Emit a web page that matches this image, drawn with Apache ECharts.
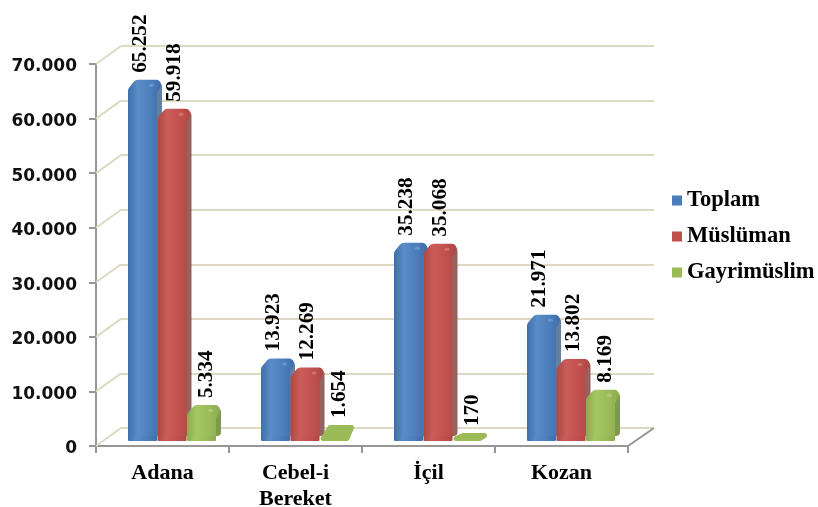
<!DOCTYPE html>
<html><head><meta charset="utf-8">
<style>html,body{margin:0;padding:0;background:#fff}#c{width:818px;height:507px}</style>
<script src="https://cdn.jsdelivr.net/npm/echarts@6/dist/echarts.min.js"></script></head>
<body><div id="c"></div>
<script>
var categories = ['Adana', 'Cebel-i\nBereket', 'İçil', 'Kozan'];
var seriesNames = ['Toplam', 'Müslüman', 'Gayrimüslim'];
var toplam = [65252, 13923, 35238, 21971];
var musluman = [59918, 12269, 35068, 13802];
var gayrimuslim = [5334, 1654, 170, 8169];
var yTicks = [0, 10000, 20000, 30000, 40000, 50000, 60000, 70000];

var palette = [
  {front:'#4a7dba', edge:'#3f6fa9', light:'#5a8cc8', side:'#64809f', hi:'#8db4e2'},
  {front:'#c0504d', edge:'#ad4744', light:'#cb5d59', side:'#96625f', hi:'#e39a97'},
  {front:'#9bbb59', edge:'#8cab4e', light:'#a6c663', side:'#7f9a4c', hi:'#c6dd96'}
];
var labelDx = [13, 17, 20];
function fmt(v){ return String(v).replace(/\B(?=(\d{3})+$)/g, '.'); }

function barItem(idx){
  return function(params, api){
    var c = api.coord([api.value(0), api.value(1)]);
    var base = api.coord([api.value(0), 0])[1];
    var p = palette[idx];
    var x0 = c[0] - 47 + 29.5 * idx, w = 29, dx = 5, dy = 7, top = c[1];
    var h = base - top;
    var grad = new echarts.graphic.LinearGradient(0,0,1,0,[
      {offset:0,color:p.edge},{offset:0.3,color:p.light},{offset:0.7,color:p.front},{offset:1,color:p.edge}]);
    var kids;
    if (h <= 12) {
      kids = [{type:'polygon', shape:{points:[[x0+3,base-2.5],[x0+dx+5,top-dy+2.5],[x0+w+dx-2.5,top-dy+2.5],[x0+w-2,base-2.5]]},
        style:{fill:p.front, stroke:p.front, lineWidth:5, lineJoin:'round'}}];
    } else {
      kids = [
        {type:'rect', shape:{x:x0+w-8, y:top-dy+3, width:8+dx, height:base-top+dy-8, r:4}, style:{fill:p.side}},
        {type:'polygon', shape:{points:[[x0+5,base-5],[x0+5,top+4],[x0+dx+5,top-dy+5],[x0+w+dx-6,top-dy+5],[x0+w-5,top+5],[x0+w-5,base-5]]},
          style:{fill:grad, stroke:grad, lineWidth:10, lineJoin:'round'}},
        {type:'rect', shape:{x:x0, y:base-5, width:w, height:5, r:1}, style:{fill:grad}},
        {type:'rect', shape:{x:x0+w-8, y:top-3, width:5, height:3, r:1.5}, style:{fill:p.hi, opacity:0.45}}
      ];
    }
    kids.push({type:'text', x:x0+labelDx[idx], y:top-dy-7, rotation:Math.PI/2, scaleX:1.06,
      style:{text:fmt(api.value(1)), font:'bold 20px "Liberation Serif"', fill:'#000', align:'left', verticalAlign:'middle'}});
    return {type:'group', children:kids};
  };
}

function barSeries(name, values, idx){
  return {name:name, type:'custom', xAxisIndex:2, yAxisIndex:2, coordinateSystem:'cartesian2d', z:5,
    itemStyle:{color:palette[idx].front},
    data:values.map(function(v,i){return [i,v];}),
    encode:{x:0,y:1}, clip:false, renderItem:barItem(idx)};
}

var wallLines = {type:'custom', xAxisIndex:0, yAxisIndex:0, z:1, silent:true, clip:false,
  data:yTicks.map(function(v){return [0,v];}), encode:{x:0,y:1},
  renderItem:function(params, api){
    var y = api.coord([0, api.value(1)])[1], x = params.coordSys.x;
    return {type:'line', shape:{x1:x, y1:y, x2:x+25, y2:y-18}, style:{stroke:'#ddd9c3', lineWidth:2}};
  }};
var floorEdge = {type:'custom', xAxisIndex:0, yAxisIndex:0, z:3, silent:true, clip:false,
  data:[[0,0]], encode:{x:0,y:1},
  renderItem:function(params, api){
    var s = params.coordSys, y = api.coord([0,0])[1], x = s.x + s.width;
    return {type:'line', shape:{x1:x, y1:y, x2:x+26, y2:y-18}, style:{stroke:'#969696', lineWidth:2}};
  }};

var axisGray = {lineStyle:{color:'#969696', width:2}};
var chart = echarts.init(document.getElementById('c'));
chart.setOption({
  animation:false, backgroundColor:'#fff',
  legend:{orient:'vertical', left:667, top:184, itemWidth:10, itemHeight:10, itemGap:13, icon:'rect',
    data:seriesNames, selectedMode:false,
    textStyle:{fontFamily:'"Liberation Serif"', fontWeight:'bold', fontSize:22.5, color:'#000'}},
  grid:[
    {left:96, right:190, top:64, bottom:61, outerBoundsMode:'none'},
    {left:121, right:164, top:46, bottom:79, outerBoundsMode:'none'},
    {left:108.5, right:177.5, top:61, bottom:66, outerBoundsMode:'none'},
    {left:96, right:190, top:67, bottom:58, outerBoundsMode:'none'}
  ],
  xAxis:[
    {gridIndex:0, type:'category', data:categories, boundaryGap:true,
      axisLine:{show:true, lineStyle:axisGray.lineStyle}, axisTick:{show:true, length:7, alignWithLabel:false, lineStyle:axisGray.lineStyle},
      axisLabel:{margin:14, fontFamily:'"Liberation Serif"', fontWeight:'bold', fontSize:22, lineHeight:26, color:'#000', interval:0},
      splitLine:{show:false}},
    {gridIndex:1, type:'category', data:categories, show:false},
    {gridIndex:2, type:'category', data:categories, show:false},
    {gridIndex:3, type:'category', data:categories, show:false}
  ],
  yAxis:[
    {gridIndex:0, type:'value', min:0, max:70000, interval:10000,
      axisLine:{show:true, lineStyle:axisGray.lineStyle}, axisTick:{show:true, length:7, lineStyle:axisGray.lineStyle},
      axisLabel:{show:false}, splitLine:{show:false}},
    {gridIndex:1, type:'value', min:0, max:70000, interval:10000,
      axisLine:{show:false}, axisTick:{show:false}, axisLabel:{show:false},
      splitLine:{show:true, lineStyle:{color:'#ddd9c3', width:2}}},
    {gridIndex:2, type:'value', min:0, max:70000, interval:10000, show:false, splitLine:{show:false}},
    {gridIndex:3, type:'value', min:0, max:70000, interval:10000,
      axisLine:{show:false}, axisTick:{show:false}, splitLine:{show:false},
      axisLabel:{margin:19, fontFamily:'"DejaVu Sans"', fontWeight:'bold', fontSize:17, color:'#111', formatter:function(v){return fmt(v);}}}
  ],
  series:[wallLines, floorEdge,
    barSeries(seriesNames[0], toplam, 0),
    barSeries(seriesNames[1], musluman, 1),
    barSeries(seriesNames[2], gayrimuslim, 2)]
});
</script></body></html>
